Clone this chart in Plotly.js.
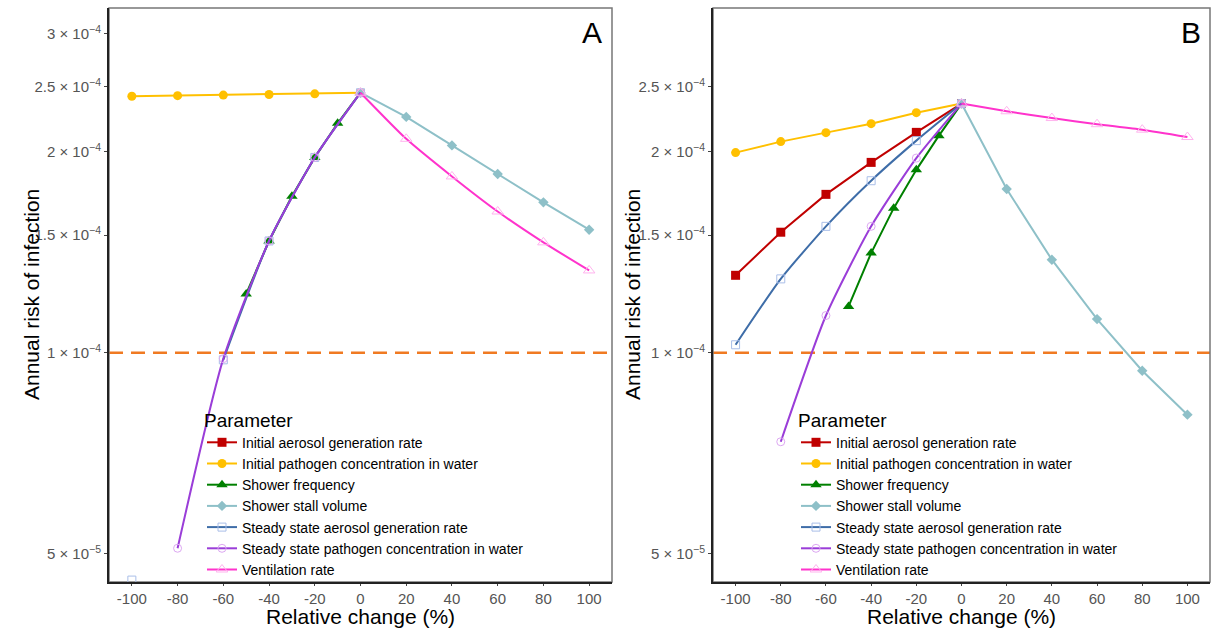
<!DOCTYPE html>
<html>
<head>
<meta charset="utf-8">
<script src="https://cdn.plot.ly/plotly-3.0.1.min.js"></script>
<style>html,body{margin:0;padding:0;background:#fff;}#chart{width:1214px;height:628px;}</style>
</head>
<body>
<div id="chart"></div>
<script>
// ---------- data ----------
const X_NEG  = [-100, -80, -60, -40, -20, 0];
const X_POS  = [0, 20, 40, 60, 80, 100];
const X_FREQ = [-50, -40, -30, -20, -10, 0];
const X_TICKS = [-100, -80, -60, -40, -20, 0, 20, 40, 60, 80, 100];

const PARAM_NAMES = [
  "Initial aerosol generation rate",
  "Initial pathogen concentration in water",
  "Shower frequency",
  "Shower stall volume",
  "Steady state aerosol generation rate",
  "Steady state pathogen concentration in water",
  "Ventilation rate"
];

// Panel A
const A_initAerosol  = [null, null, null, null, null, null];
const A_initPathogen = [2.42e-4, 2.425e-4, 2.43e-4, 2.435e-4, 2.44e-4, 2.45e-4];
const A_showerFreq   = [1.225e-4, 1.47e-4, 1.715e-4, 1.96e-4, 2.205e-4, 2.45e-4];
const A_stallVolume  = [2.45e-4, 2.254e-4, 2.043e-4, 1.851e-4, 1.679e-4, 1.528e-4];
const A_ssAerosol    = [4.57e-5, null, 0.976e-4, 1.47e-4, 1.96e-4, 2.45e-4];
const A_ssPathogen   = [null, 5.1e-5, 0.98e-4, 1.47e-4, 1.96e-4, 2.45e-4];
const A_ventilation  = [2.45e-4, 2.09e-4, 1.836e-4, 1.627e-4, 1.463e-4, 1.328e-4];

// Panel B
const B_initAerosol  = [1.306e-4, 1.515e-4, 1.726e-4, 1.927e-4, 2.137e-4, 2.36e-4];
const B_initPathogen = [1.993e-4, 2.07e-4, 2.135e-4, 2.202e-4, 2.287e-4, 2.36e-4];
const B_showerFreq   = [1.173e-4, 1.41e-4, 1.646e-4, 1.878e-4, 2.113e-4, 2.36e-4];
const B_stallVolume  = [2.36e-4, 1.758e-4, 1.378e-4, 1.123e-4, 0.94e-4, 0.808e-4];
const B_ssAerosol    = [1.028e-4, 1.29e-4, 1.546e-4, 1.809e-4, 2.077e-4, 2.36e-4];
const B_ssPathogen   = [null, 0.736e-4, 1.137e-4, 1.546e-4, 1.956e-4, 2.36e-4];
const B_ventilation  = [2.36e-4, 2.298e-4, 2.245e-4, 2.198e-4, 2.157e-4, 2.103e-4];

const THRESHOLD = 1e-4;

const A_Y_TICKVALS = [5e-5, 1e-4, 1.5e-4, 2e-4, 2.5e-4, 3e-4];
const A_Y_TICKTEXT = ["5 × 10<sup>−5</sup>", "1 × 10<sup>−4</sup>", "1.5 × 10<sup>−4</sup>", "2 × 10<sup>−4</sup>", "2.5 × 10<sup>−4</sup>", "3 × 10<sup>−4</sup>"];
const B_Y_TICKVALS = [5e-5, 1e-4, 1.5e-4, 2e-4, 2.5e-4];
const B_Y_TICKTEXT = ["5 × 10<sup>−5</sup>", "1 × 10<sup>−4</sup>", "1.5 × 10<sup>−4</sup>", "2 × 10<sup>−4</sup>", "2.5 × 10<sup>−4</sup>"];

const X_TITLE = "Relative change (%)";
const Y_TITLE = "Annual risk of infection";

// ---------- styles ----------
const STY = [
  {line: "#C00000", marker: {symbol: "square", color: "#C00000", size: 9}, shape: "linear"},
  {line: "#FFC000", marker: {symbol: "circle", color: "#FFC000", size: 9}, shape: "linear"},
  {line: "#008000", marker: {symbol: "triangle-up", color: "#008000", size: 10}, shape: "linear"},
  {line: "#8EC0C8", marker: {symbol: "diamond", color: "#8EC0C8", size: 8}, shape: "linear"},
  {line: "#3E6DA8", marker: {symbol: "square-open", color: "#A9BEE8", size: 8, line: {width: 1}}, shape: "spline"},
  {line: "#9A3DD8", marker: {symbol: "circle-open", color: "#DDA8F2", size: 8, line: {width: 1}}, shape: "spline"},
  {line: "#FF33CC", marker: {symbol: "triangle-up-open", color: "#FFB3EE", size: 10, line: {width: 1}}, shape: "spline"}
];

function mk(i, xs, ys, xa, ya, leg) {
  const s = STY[i];
  return {
    type: "scatter", mode: "lines+markers",
    x: xs, y: ys, xaxis: xa, yaxis: ya,
    name: PARAM_NAMES[i], legend: leg, showlegend: true,
    connectgaps: false,
    line: {color: s.line, width: 2, shape: s.shape, smoothing: 0.6},
    marker: s.marker,
    hoverinfo: "x+y+name"
  };
}

const dataA = [
  [X_NEG, A_initAerosol], [X_NEG, A_initPathogen], [X_FREQ, A_showerFreq],
  [X_POS, A_stallVolume], [X_NEG, A_ssAerosol], [X_NEG, A_ssPathogen], [X_POS, A_ventilation]
];
const dataB = [
  [X_NEG, B_initAerosol], [X_NEG, B_initPathogen], [X_FREQ, B_showerFreq],
  [X_POS, B_stallVolume], [X_NEG, B_ssAerosol], [X_NEG, B_ssPathogen], [X_POS, B_ventilation]
];

const traces = [];
dataA.forEach((d, i) => traces.push(mk(i, d[0], d[1], "x", "y", "legend")));
dataB.forEach((d, i) => traces.push(mk(i, d[0], d[1], "x2", "y2", "legend2")));

// ---------- layout ----------
const W = 1214, H = 628;
const FONT = "Liberation Sans, Arial, sans-serif";
const yRange = [Math.log10(4.54e-5), Math.log10(3.28e-4)];
const yDom = [(H - 582) / H, (H - 8) / H];

function xax(dom, anchor) {
  return {
    domain: dom, anchor: anchor, range: [-110, 110],
    tickvals: X_TICKS, ticktext: X_TICKS.map(String),
    showgrid: false, zeroline: false,
    showline: true, linecolor: "#222", linewidth: 2,
    ticks: "outside", ticklen: 2, tickcolor: "#444", tickwidth: 1,
    tickfont: {family: FONT, size: 15, color: "#555"}
  };
}
function yax(anchor, tv, tt) {
  return {
    domain: yDom, anchor: anchor, type: "log", range: yRange,
    tickvals: tv, ticktext: tt,
    showgrid: false, zeroline: false,
    showline: true, linecolor: "#222", linewidth: 2,
    ticks: "outside", ticklen: 3, tickcolor: "#444", tickwidth: 1,
    tickfont: {family: FONT, size: 15, color: "#555"}
  };
}

const legendBase = {
  bgcolor: "rgba(0,0,0,0)", borderwidth: 0,
  font: {family: FONT, size: 14, color: "#000"},
  title: {text: "Parameter", font: {family: FONT, size: 19, color: "#000"}},
  tracegroupgap: 0, itemwidth: 30,
  xanchor: "left", yanchor: "top", traceorder: "normal"
};

const titleFont = {family: FONT, size: 21, color: "#000"};

const layout = {
  width: W, height: H,
  margin: {l: 0, r: 0, t: 0, b: 0},
  paper_bgcolor: "#fff", plot_bgcolor: "#fff",
  showlegend: true,
  xaxis: xax([109 / W, 612 / W], "y"),
  yaxis: yax("x", A_Y_TICKVALS, A_Y_TICKTEXT),
  xaxis2: xax([713 / W, 1210 / W], "y2"),
  yaxis2: yax("x2", B_Y_TICKVALS, B_Y_TICKTEXT),
  legend: Object.assign({}, legendBase, {x: 202 / W, y: (H - 402) / H}),
  legend2: Object.assign({}, legendBase, {x: 796 / W, y: (H - 402) / H}),
  shapes: [
    {type: "line", xref: "x domain", yref: "y", x0: 0, x1: 1, y0: THRESHOLD, y1: THRESHOLD,
     line: {color: "#F07A22", width: 2.5, dash: "14px,8px"}, layer: "below"},
    {type: "line", xref: "x2 domain", yref: "y2", x0: 0, x1: 1, y0: THRESHOLD, y1: THRESHOLD,
     line: {color: "#F07A22", width: 2.5, dash: "14px,8px"}, layer: "below"},
    {type: "rect", xref: "x domain", yref: "y domain", x0: 0, x1: 1, y0: 0, y1: 1,
     line: {color: "#777", width: 1.5}, fillcolor: "rgba(0,0,0,0)", layer: "below"},
    {type: "rect", xref: "x2 domain", yref: "y2 domain", x0: 0, x1: 1, y0: 0, y1: 1,
     line: {color: "#777", width: 1.5}, fillcolor: "rgba(0,0,0,0)", layer: "below"}
  ],
  annotations: [
    {text: "A", xref: "x domain", yref: "y domain", x: 0.985, y: 0.99, xanchor: "right", yanchor: "top",
     showarrow: false, font: {family: FONT, size: 30, color: "#000"}},
    {text: "B", xref: "x2 domain", yref: "y2 domain", x: 0.985, y: 0.99, xanchor: "right", yanchor: "top",
     showarrow: false, font: {family: FONT, size: 30, color: "#000"}},
    {text: X_TITLE, xref: "x domain", yref: "paper", x: 0.5, y: (H - 616) / H, xanchor: "center", yanchor: "middle",
     showarrow: false, font: titleFont},
    {text: X_TITLE, xref: "x2 domain", yref: "paper", x: 0.5, y: (H - 616) / H, xanchor: "center", yanchor: "middle",
     showarrow: false, font: titleFont},
    {text: Y_TITLE, xref: "paper", yref: "y domain", x: 31 / W, y: 0.5, xanchor: "center", yanchor: "middle",
     textangle: -90, showarrow: false, font: titleFont},
    {text: Y_TITLE, xref: "paper", yref: "y2 domain", x: 632 / W, y: 0.5, xanchor: "center", yanchor: "middle",
     textangle: -90, showarrow: false, font: titleFont}
  ]
};

Plotly.newPlot("chart", traces, layout, {displayModeBar: false, staticPlot: true});
</script>
</body>
</html>
